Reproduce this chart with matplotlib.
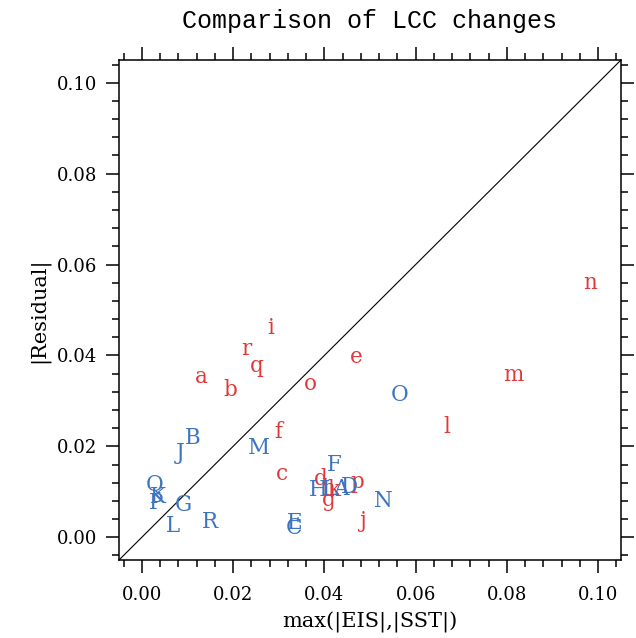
import matplotlib
matplotlib.use("Agg")
import matplotlib.pyplot as plot
from matplotlib.ticker import MultipleLocator, FormatStrFormatter

# lower case letters (red)
red_labels = list("abcdefghijklmnopqr")
red_x = [0.0130, 0.0194, 0.0306, 0.0391, 0.0470, 0.0299, 0.0409, 0.0409, 0.0282,
         0.0486, 0.0422, 0.0668, 0.0814, 0.0983, 0.0369, 0.0472, 0.0253, 0.0229]
red_y = [0.0353, 0.0325, 0.0140, 0.0129, 0.0397, 0.0232, 0.0083, 0.0107, 0.0461,
         0.0035, 0.0103, 0.0243, 0.0357, 0.0559, 0.0338, 0.0121, 0.0377, 0.0414]

# upper case letters (blue)
blue_labels = list("ABCDEFGHIJKLMNOPQR")
blue_x = [0.0437, 0.0111, 0.0334, 0.0455, 0.0334, 0.0422, 0.0091, 0.0387, 0.0404,
          0.0084, 0.0036, 0.0069, 0.0257, 0.0529, 0.0564, 0.0032, 0.0029, 0.0150]
blue_y = [0.0107, 0.0219, 0.0020, 0.0110, 0.0031, 0.0160, 0.0072, 0.0105, 0.0105,
          0.0186, 0.0088, 0.0024, 0.0197, 0.0079, 0.0314, 0.0075, 0.0114, 0.0033]

rouge = '#e0393b'
bleu = '#3d74bf'
police = 'DejaVu Serif'

fig = plot.figure(figsize=(6.36, 6.38), dpi=100)
ax = fig.add_axes([119/636, 78/638, 502/636, 500/638])

for lab, x, y in zip(red_labels, red_x, red_y):
    ax.text(x, y, lab, color=rouge, fontsize=15.5, family=police,
            ha='center', va='center')
for lab, x, y in zip(blue_labels, blue_x, blue_y):
    ax.text(x, y, lab, color=bleu, fontsize=15.5, family=police,
            ha='center', va='center')

ax.axline((0, 0), slope=1, color='k', lw=0.8)

ax.set_xlim([-0.005, 0.105])
ax.set_ylim([-0.005, 0.105])
ax.xaxis.set_major_locator(MultipleLocator(0.02))
ax.yaxis.set_major_locator(MultipleLocator(0.02))
ax.xaxis.set_minor_locator(MultipleLocator(0.004))
ax.yaxis.set_minor_locator(MultipleLocator(0.004))
ax.tick_params(which='both', direction='out', top=True, right=True, width=1.1)
ax.tick_params(which='major', length=9.5)
ax.tick_params(which='minor', length=5)
ax.tick_params(axis='x', pad=9)
ax.tick_params(axis='y', pad=6)
ax.tick_params(labelsize=13)
for s in ax.spines.values():
    s.set_linewidth(1.1)
ax.xaxis.set_major_formatter(FormatStrFormatter('%.2f'))
ax.yaxis.set_major_formatter(FormatStrFormatter('%.2f'))
for t in ax.get_xticklabels() + ax.get_yticklabels():
    t.set_family(police)

ax.set_xlabel('max(|EIS|,|SST|)', fontsize=15, family=police, labelpad=6)
ax.set_ylabel('|Residual|', fontsize=15, family=police, labelpad=6)
fig.text(370/636, 1 - 28/638, 'Comparison of LCC changes', fontsize=18,
         family='Liberation Mono', ha='center', va='baseline')

plot.savefig('out.png', dpi=100)
